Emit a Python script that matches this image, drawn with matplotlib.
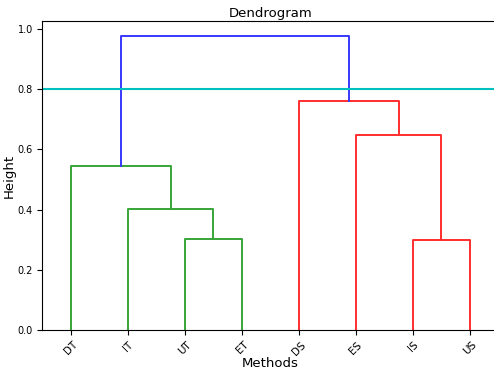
import numpy as np
import matplotlib
matplotlib.use('Agg')
import matplotlib.pyplot as plt

# leaves in dendrogram order
labels = ['DT', 'IT', 'UT', 'ET', 'DS', 'ES', 'IS', 'US']

# merges: (left node, right node, height, colour); nodes 0-7 are leaves,
# node 8+k is the cluster formed by merge k
merges = [
    (2, 3, 0.302, 'g'),    # 8: UT+ET
    (1, 8, 0.403, 'g'),    # 9: IT+(UT,ET)
    (0, 9, 0.545, 'g'),    # 10: DT+...
    (6, 7, 0.299, 'r'),    # 11: IS+US
    (5, 11, 0.648, 'r'),   # 12: ES+(IS,US)
    (4, 12, 0.761, 'r'),   # 13: DS+...
    (10, 13, 0.977, 'b'),  # 14: root
]
cut_height = 0.8

colors = {'g': '#38a538', 'r': '#ff2e2e', 'b': '#3838ff'}

fig = plt.figure(figsize=(4.94, 3.71), dpi=100)
ax = fig.add_axes([0.086, 0.1105, 0.923, 0.833])

xpos = [5 + 10 * i for i in range(len(labels))]
ypos = [0.0] * len(labels)
for a, b, h, c in merges:
    ax.plot([xpos[a], xpos[a], xpos[b], xpos[b]],
            [ypos[a], h, h, ypos[b]], color=colors[c], lw=1.4)
    xpos.append((xpos[a] + xpos[b]) / 2)
    ypos.append(h)

ax.axhline(cut_height, color='#00bfbf', lw=1.5)

ax.set_xlim(0, 10 * len(labels))
ax.set_ylim(0, max(ypos) * 1.05)
ax.set_xticks([5 + 10 * i for i in range(len(labels))])
ax.set_xticklabels(labels, rotation=45, fontsize=7.5)
ax.set_yticks([0, 0.2, 0.4, 0.6, 0.8, 1.0])
ax.tick_params(axis='y', labelsize=7)
ax.set_title('Dendrogram', fontsize=9.5, pad=3)
ax.set_xlabel('Methods', fontsize=9.5, labelpad=0)
ax.set_ylabel('Height', fontsize=9.5, labelpad=1)

fig.savefig('out.png', dpi=100)
plt.close()
